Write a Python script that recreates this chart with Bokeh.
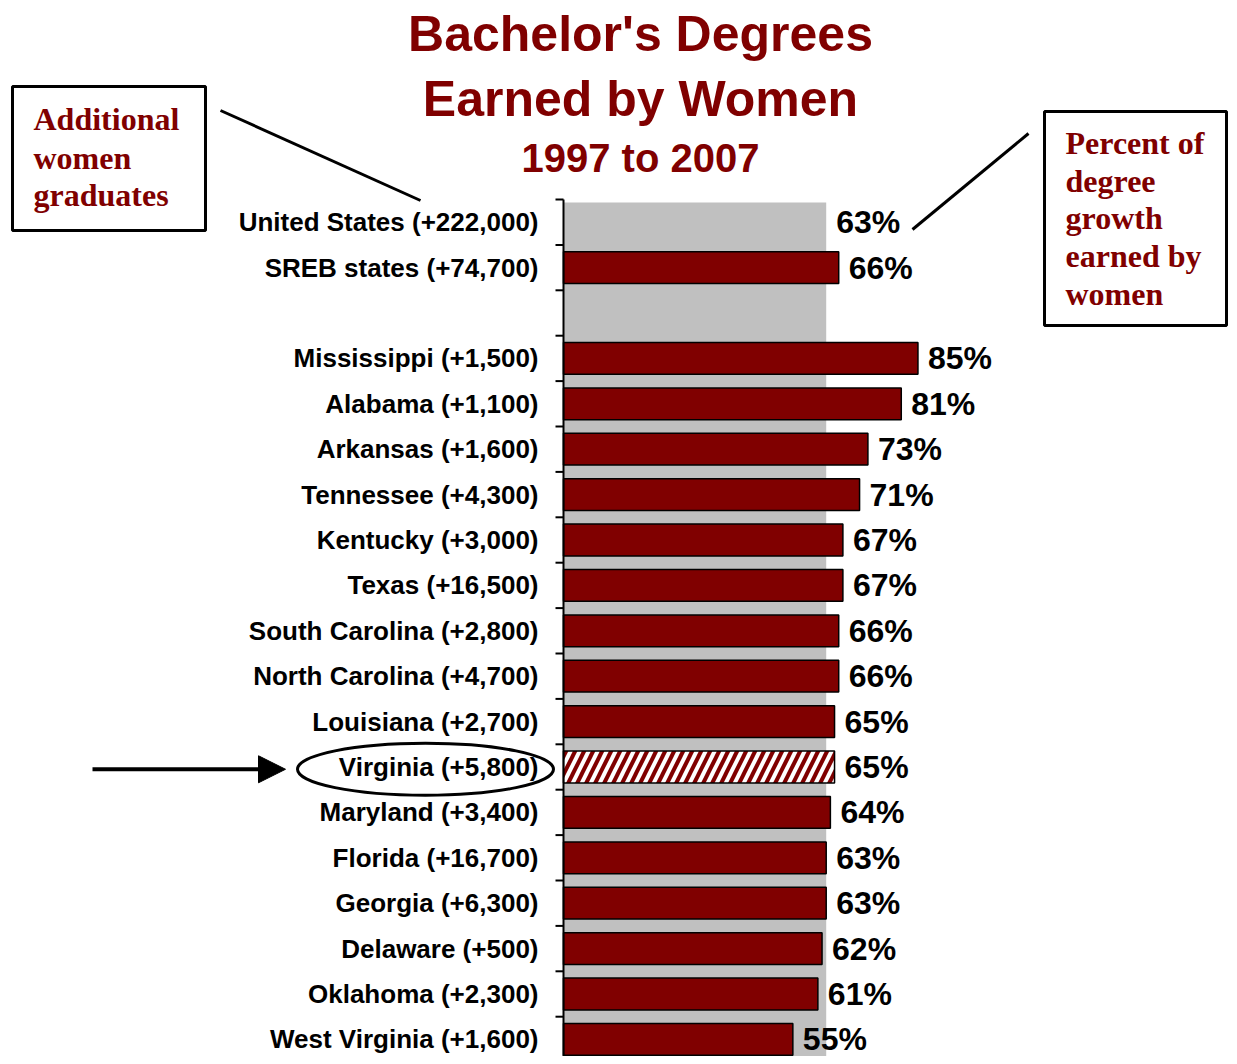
from bokeh.plotting import figure
from bokeh.models import Range1d, ColumnDataSource, Arrow, NormalHead
from bokeh.core.properties import value
from bokeh.embed import file_html
from bokeh.resources import INLINE

# ---------------- data ----------------
names = ["United States", "SREB states", "Mississippi", "Alabama", "Arkansas",
         "Tennessee", "Kentucky", "Texas", "South Carolina", "North Carolina",
         "Louisiana", "Virginia", "Maryland", "Florida", "Georgia", "Delaware",
         "Oklahoma", "West Virginia"]
added = ["+222,000", "+74,700", "+1,500", "+1,100", "+1,600", "+4,300", "+3,000",
         "+16,500", "+2,800", "+4,700", "+2,700", "+5,800", "+3,400", "+16,700",
         "+6,300", "+500", "+2,300", "+1,600"]
pct = [63, 66, 85, 81, 73, 71, 67, 67, 66, 66, 65, 65, 64, 63, 63, 62, 61, 55]
highlight = "Virginia"

title_lines = ["Bachelor's Degrees", "Earned by Women", "1997 to 2007"]
left_note = ["Additional", "women", "graduates"]
right_note = ["Percent of", "degree", "growth", "earned by", "women"]

# ---------------- layout helpers (canvas pixels -> data) ----------------
SX = 4.17      # px per percent
RH = 45.4      # px per row
X0 = 563       # canvas x of 0 %
Y0 = 199       # canvas y of top of first row


def px_x(px):
    return (px - X0) / SX


def px_y(py):
    return -0.5 + (py - Y0) / RH


# row positions: US, SREB, gap, then states
rows = [0, 1] + list(range(3, 3 + len(names) - 2))

MAROON = "#800000"
W, H = 1229, 1056

p = figure(width=W, height=H, output_backend="svg", toolbar_location=None,
           x_range=Range1d(px_x(0), px_x(W)),
           y_range=Range1d(px_y(H), px_y(0)),
           x_axis_type=None, y_axis_type=None, min_border=0,
           outline_line_color=None, background_fill_color="white",
           border_fill_color="white")
p.xgrid.visible = False
p.ygrid.visible = False

# grey band = United States share, running the whole chart height
p.quad(left=[0], right=[pct[0]], top=[px_y(202)], bottom=[px_y(H) + 1],
       fill_color="#C0C0C0", line_color=None)

# bars for SREB and states
src_plain = ColumnDataSource(dict(
    y=[r for r, n in zip(rows[1:], names[1:]) if n != highlight],
    v=[v for v, n in zip(pct[1:], names[1:]) if n != highlight]))
src_hl = ColumnDataSource(dict(
    y=[r for r, n in zip(rows, names) if n == highlight],
    v=[v for v, n in zip(pct, names) if n == highlight]))

p.hbar(y="y", left=0, right="v", height=0.7, source=src_plain,
       fill_color=MAROON, line_color="black", line_width=1.5)
p.hbar(y="y", left=0, right="v", height=0.7, source=src_hl,
       fill_color="white", hatch_pattern="/", hatch_color=MAROON,
       hatch_scale=18, hatch_weight=4,
       line_color="black", line_width=1.5)

# axis line and ticks (between rows)
last = rows[-1]
p.segment(x0=[0], y0=[-0.5], x1=[0], y1=[px_y(H) + 1], line_color="black", line_width=2)
bounds = [b - 0.5 for b in range(0, last + 1)]
p.segment(x0=[-8 / SX] * len(bounds), y0=bounds, x1=[0] * len(bounds), y1=bounds,
          line_color="black", line_width=2)

# category labels
labels = [f"{n} ({a})" for n, a in zip(names, added)]
p.text(x=[0] * len(rows), y=rows, text=labels, x_offset=-25,
       text_align="right", text_baseline="middle",
       text_font=value("Liberation Sans"), text_font_style="bold",
       text_font_size="26px", text_color="black")

# value labels
p.text(x=pct, y=rows, text=[f"{v}%" for v in pct], x_offset=10,
       text_align="left", text_baseline="middle",
       text_font=value("Liberation Sans"), text_font_style="bold",
       text_font_size="32px", text_color="black")

# title
p.text(x=[px_x(640)] * 2, y=[px_y(33), px_y(98)], text=title_lines[:2],
       text_align="center", text_baseline="middle",
       text_font=value("Liberation Sans"), text_font_style="bold",
       text_font_size="50px", text_color=MAROON)
p.text(x=[px_x(640)], y=[px_y(157)], text=title_lines[2:],
       text_align="center", text_baseline="middle",
       text_font=value("Liberation Sans"), text_font_style="bold",
       text_font_size="40px", text_color=MAROON)

# note boxes
p.quad(left=[px_x(12), px_x(1044)], right=[px_x(205), px_x(1226)],
       top=[px_y(86), px_y(111)], bottom=[px_y(230), px_y(325)],
       fill_color=None, line_color="black", line_width=3)
p.text(x=[px_x(33)] * 3, y=[px_y(118), px_y(157), px_y(194)], text=left_note,
       text_align="left", text_baseline="middle",
       text_font=value("Liberation Serif"), text_font_style="bold",
       text_font_size="32px", text_color=MAROON)
p.text(x=[px_x(1065)] * 5, y=[px_y(v) for v in (142, 180, 217, 255, 293)], text=right_note,
       text_align="left", text_baseline="middle",
       text_font=value("Liberation Serif"), text_font_style="bold",
       text_font_size="32px", text_color=MAROON)

# connector lines
p.line([px_x(220), px_x(420)], [px_y(110), px_y(200)], line_color="black", line_width=3)
p.line([px_x(1028), px_x(912)], [px_y(133), px_y(229)], line_color="black", line_width=3)

# Virginia highlight: ellipse and arrow
vy = rows[names.index(highlight)]
p.ellipse(x=[px_x(425)], y=[vy + 0.05], width=[256 / SX], height=[52 / RH],
          fill_color=None, line_color="black", line_width=3)
p.add_layout(Arrow(end=NormalHead(size=27, fill_color="black", line_color="black"),
                   x_start=px_x(92), y_start=vy + 0.05, x_end=px_x(285), y_end=vy + 0.05,
                   line_color="black", line_width=4))

open("out.html", "w").write(file_html(p, INLINE))
